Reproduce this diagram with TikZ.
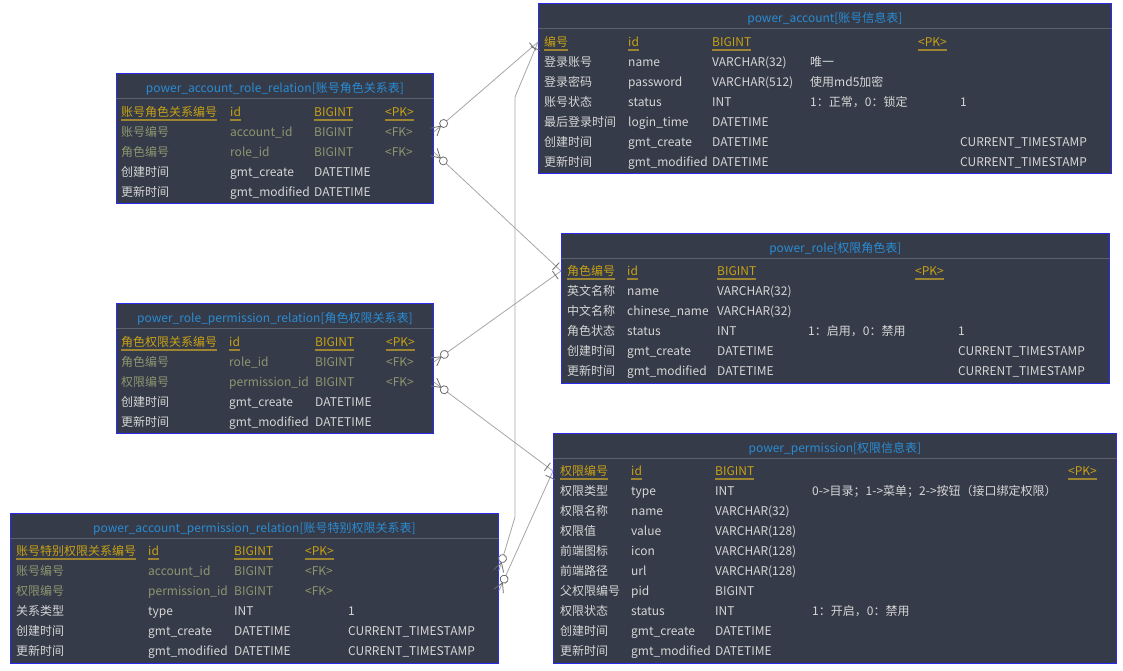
\documentclass[tikz,border=0pt]{standalone}
\usepackage{fontspec}
\setmainfont{Noto Sans CJK SC}
\usetikzlibrary{decorations.markings}

\definecolor{tblbg}{HTML}{353B48}
\definecolor{tblline}{HTML}{2B2BF0}
\definecolor{hdline}{HTML}{5C6170}
\definecolor{ttlblue}{HTML}{2A8CD4}
\definecolor{pkgold}{HTML}{C9A216}
\definecolor{pkline}{HTML}{9C8430}
\definecolor{fkolive}{HTML}{8E9670}
\definecolor{fldgray}{HTML}{D6D6D6}
\definecolor{connline}{HTML}{A6A6A6}
\definecolor{markgray}{HTML}{6E6E6E}

\begin{document}
\begin{tikzpicture}[x=1pt, y=-1pt,
  font=\fontsize{12}{14}\selectfont,
  tbl/.style={draw=tblline, line width=0.8pt, fill=tblbg, anchor=north west, inner sep=0pt},
  hdsep/.style={draw=hdline, line width=0.8pt},
  ttl/.style={text=ttlblue, inner sep=0pt},
  cell/.style={anchor=west, inner xsep=0pt, inner ysep=0pt, text height=11pt, text depth=2pt},
  fld/.style={cell, text=fldgray},
  fk/.style={cell, text=fkolive},
  pk/.style={cell, text=pkgold, inner ysep=1.5pt,
    append after command={(\tikzlastnode.south west) edge[draw=pkline, line width=1.6pt] (\tikzlastnode.south east)}},
  mk/.style={draw=markgray, line width=0.8pt},
  manyone/.style={draw=connline, line width=0.8pt, postaction={decorate, decoration={markings,
    mark=at position 0pt with {\draw[mk] (0,-5) -- (9,0) -- (0,5);},
    mark=at position 13pt with {\draw[mk, fill=white] (0,0) circle (4pt);},
    mark=at position -7pt with {\draw[mk] (0,-5) -- (0,5);}}}}
]
\useasboundingbox (0,0) rectangle (1123,671);

% power_account
\node[tbl, minimum width=573pt, minimum height=170pt] (acc) at (538,3) {};
\draw[hdsep] ([yshift=-25pt]acc.north west) -- ([yshift=-25pt]acc.north east);
\node[ttl] (acc-t) at ([yshift=-15.5pt]acc.north) {power\_account[账号信息表]};
\node[pk] (acc-pk) at (544,42) {编号};
\node[pk] (acc-pk2) at (628,42) {id};
\node[pk] (acc-pk3) at (712,42) {BIGINT};
\node[pk] (acc-pk4) at (918,42) {<PK>};
\foreach \y/\a/\b/\c/\d/\e in {62/登录账号/name/VARCHAR(32)/唯一/{}, 82/登录密码/password/VARCHAR(512)/使用md5加密/{},
  102/账号状态/status/INT/1：正常，0：锁定/1, 122/最后登录时间/login\_time/DATETIME/{}/{},
  142/创建时间/gmt\_create/DATETIME/{}/CURRENT\_TIMESTAMP, 162/更新时间/gmt\_modified/DATETIME/{}/CURRENT\_TIMESTAMP}{
  \node[fld] (acc-\y-a) at (544,\y) {\a};
  \node[fld] (acc-\y-b) at (628,\y) {\b};
  \node[fld] (acc-\y-c) at (712,\y) {\c};
  \node[fld] (acc-\y-d) at (810,\y) {\d};
  \node[fld] (acc-\y-e) at (960,\y) {\e};
}

% power_role
\node[tbl, minimum width=548pt, minimum height=150pt] (role) at (561,233) {};
\draw[hdsep] ([yshift=-25pt]role.north west) -- ([yshift=-25pt]role.north east);
\node[ttl] (role-t) at ([yshift=-15.5pt]role.north) {power\_role[权限角色表]};
\node[pk] (role-pk) at (567,271) {角色编号};
\node[pk] (role-pk2) at (627,271) {id};
\node[pk] (role-pk3) at (717,271) {BIGINT};
\node[pk] (role-pk4) at (915,271) {<PK>};
\foreach \y/\a/\b/\c/\d/\e in {291/英文名称/name/VARCHAR(32)/{}/{}, 311/中文名称/chinese\_name/VARCHAR(32)/{}/{},
  331/角色状态/status/INT/1：启用，0：禁用/1, 351/创建时间/gmt\_create/DATETIME/{}/CURRENT\_TIMESTAMP,
  371/更新时间/gmt\_modified/DATETIME/{}/CURRENT\_TIMESTAMP}{
  \node[fld] (role-\y-a) at (567,\y) {\a};
  \node[fld] (role-\y-b) at (627,\y) {\b};
  \node[fld] (role-\y-c) at (717,\y) {\c};
  \node[fld] (role-\y-d) at (808,\y) {\d};
  \node[fld] (role-\y-e) at (958,\y) {\e};
}

% power_permission
\node[tbl, minimum width=563pt, minimum height=230pt] (perm) at (553,433) {};
\draw[hdsep] ([yshift=-25pt]perm.north west) -- ([yshift=-25pt]perm.north east);
\node[ttl] (perm-t) at ([yshift=-15.5pt]perm.north) {power\_permission[权限信息表]};
\node[pk] (perm-pk) at (560,471) {权限编号};
\node[pk] (perm-pk2) at (631,471) {id};
\node[pk] (perm-pk3) at (715,471) {BIGINT};
\node[pk] (perm-pk4) at (1068,471) {<PK>};
\foreach \y/\a/\b/\c/\d in {491/权限类型/type/INT/0->目录；1->菜单；2->按钮（接口绑定权限）, 511/权限名称/name/VARCHAR(32)/{},
  531/权限值/value/VARCHAR(128)/{}, 551/前端图标/icon/VARCHAR(128)/{}, 571/前端路径/url/VARCHAR(128)/{},
  591/父权限编号/pid/BIGINT/{}, 611/权限状态/status/INT/1：开启，0：禁用,
  631/创建时间/gmt\_create/DATETIME/{}, 651/更新时间/gmt\_modified/DATETIME/{}}{
  \node[fld] (perm-\y-a) at (560,\y) {\a};
  \node[fld] (perm-\y-b) at (631,\y) {\b};
  \node[fld] (perm-\y-c) at (715,\y) {\c};
  \node[fld] (perm-\y-d) at (812,\y) {\d};
}

% power_account_role_relation
\node[tbl, minimum width=317pt, minimum height=130pt] (ar) at (116,73) {};
\draw[hdsep] ([yshift=-25pt]ar.north west) -- ([yshift=-25pt]ar.north east);
\node[ttl] (ar-t) at ([yshift=-15.5pt]ar.north) {power\_account\_role\_relation[账号角色关系表]};
\node[pk] (ar-pk) at (121,112) {账号角色关系编号};
\node[pk] (ar-pk2) at (230,112) {id};
\node[pk] (ar-pk3) at (314,112) {BIGINT};
\node[pk] (ar-pk4) at (385,112) {<PK>};
\node[fk] (ar-acc) at (121,132) {账号编号};
\node[fk] (ar-acc2) at (230,132) {account\_id};
\node[fk] (ar-acc3) at (314,132) {BIGINT};
\node[fk] (ar-acc4) at (385,132) {<FK>};
\node[fk] (ar-role) at (121,152) {角色编号};
\node[fk] (ar-role2) at (230,152) {role\_id};
\node[fk] (ar-role3) at (314,152) {BIGINT};
\node[fk] (ar-role4) at (385,152) {<FK>};
\foreach \y/\a/\b in {172/创建时间/gmt\_create, 192/更新时间/gmt\_modified}{
  \node[fld] (ar-\y-a) at (121,\y) {\a};
  \node[fld] (ar-\y-b) at (230,\y) {\b};
  \node[fld] (ar-\y-c) at (314,\y) {DATETIME};
}

% power_role_permission_relation
\node[tbl, minimum width=317pt, minimum height=130pt] (rp) at (116,303) {};
\draw[hdsep] ([yshift=-25pt]rp.north west) -- ([yshift=-25pt]rp.north east);
\node[ttl] (rp-t) at ([yshift=-15.5pt]rp.north) {power\_role\_permission\_relation[角色权限关系表]};
\node[pk] (rp-pk) at (121,342) {角色权限关系编号};
\node[pk] (rp-pk2) at (229,342) {id};
\node[pk] (rp-pk3) at (315,342) {BIGINT};
\node[pk] (rp-pk4) at (386,342) {<PK>};
\node[fk] (rp-role) at (121,362) {角色编号};
\node[fk] (rp-role2) at (229,362) {role\_id};
\node[fk] (rp-role3) at (315,362) {BIGINT};
\node[fk] (rp-role4) at (386,362) {<FK>};
\node[fk] (rp-perm) at (121,382) {权限编号};
\node[fk] (rp-perm2) at (229,382) {permission\_id};
\node[fk] (rp-perm3) at (315,382) {BIGINT};
\node[fk] (rp-perm4) at (386,382) {<FK>};
\foreach \y/\a/\b in {402/创建时间/gmt\_create, 422/更新时间/gmt\_modified}{
  \node[fld] (rp-\y-a) at (121,\y) {\a};
  \node[fld] (rp-\y-b) at (229,\y) {\b};
  \node[fld] (rp-\y-c) at (315,\y) {DATETIME};
}

% power_account_permission_relation
\node[tbl, minimum width=488pt, minimum height=150pt] (ap) at (10,513) {};
\draw[hdsep] ([yshift=-25pt]ap.north west) -- ([yshift=-25pt]ap.north east);
\node[ttl] (ap-t) at ([yshift=-15.5pt]ap.north) {power\_account\_permission\_relation[账号特别权限关系表]};
\node[pk] (ap-pk) at (16,551) {账号特别权限关系编号};
\node[pk] (ap-pk2) at (148,551) {id};
\node[pk] (ap-pk3) at (234,551) {BIGINT};
\node[pk] (ap-pk4) at (305,551) {<PK>};
\node[fk] (ap-acc) at (16,571) {账号编号};
\node[fk] (ap-acc2) at (148,571) {account\_id};
\node[fk] (ap-acc3) at (234,571) {BIGINT};
\node[fk] (ap-acc4) at (305,571) {<FK>};
\node[fk] (ap-perm) at (16,591) {权限编号};
\node[fk] (ap-perm2) at (148,591) {permission\_id};
\node[fk] (ap-perm3) at (234,591) {BIGINT};
\node[fk] (ap-perm4) at (305,591) {<FK>};
\foreach \y/\a/\b/\c/\e in {611/关系类型/type/INT/1, 631/创建时间/gmt\_create/DATETIME/CURRENT\_TIMESTAMP,
  651/更新时间/gmt\_modified/DATETIME/CURRENT\_TIMESTAMP}{
  \node[fld] (ap-\y-a) at (16,\y) {\a};
  \node[fld] (ap-\y-b) at (148,\y) {\b};
  \node[fld] (ap-\y-c) at (234,\y) {\c};
  \node[fld] (ap-\y-e) at (348,\y) {\e};
}

% relations
\coordinate (bendlow) at (515,517);
\coordinate (bendhigh) at (515,97);
\draw[manyone] (ar.east |- ar-acc) -- (acc.west |- acc-pk);
\draw[manyone] (ar.east |- ar-role) -- (role.west |- role-pk);
\draw[manyone] (rp.east |- rp-role) -- (role.west |- role-pk);
\draw[manyone] (rp.east |- rp-perm) -- (perm.west |- perm-pk);
\draw[manyone] (ap.east |- ap-acc) -- (bendlow) -- (bendhigh) -- (acc.west |- acc-pk);
\draw[manyone] (ap.east |- ap-perm) -- (perm.west |- perm-pk);
\end{tikzpicture}
\end{document}
